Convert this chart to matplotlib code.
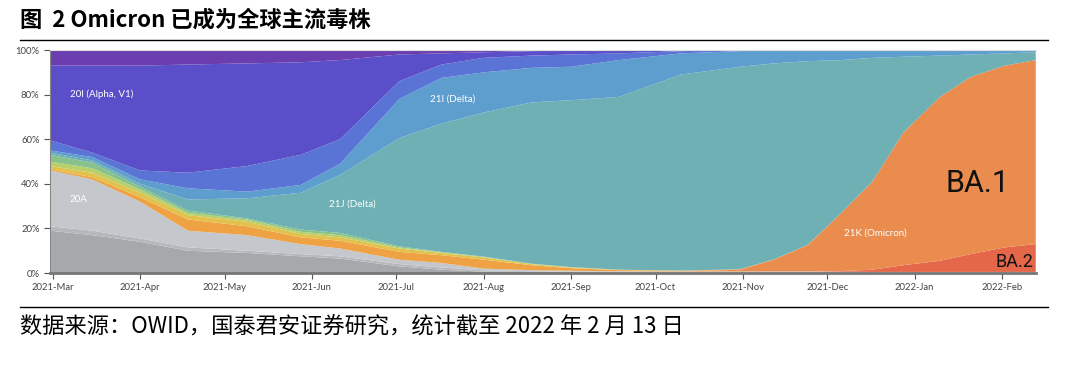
import matplotlib
matplotlib.use("Agg")
import matplotlib.pyplot as plt
import matplotlib.dates as mdates
import pandas as pd

# 采样日期
dates = ["2021-02-28", "2021-03-15", "2021-04-01", "2021-04-18", "2021-05-09", "2021-05-28",
         "2021-06-11", "2021-07-02", "2021-07-17", "2021-08-01", "2021-08-18", "2021-09-01",
         "2021-09-18", "2021-10-10", "2021-10-31", "2021-11-12", "2021-11-24", "2021-12-06",
         "2021-12-17", "2021-12-28", "2022-01-10", "2022-01-21", "2022-02-02", "2022-02-13"]

# 各变异株占比（%），自下而上堆叠
other_dark = [19, 17, 14, 10, 9, 7.5, 6.5, 3, 1.5, 0.6, 0.5, 0.4, 0.3, 0.3, 0.3, 0.3, 0.3, 0.3, 0.2, 0.2, 0.2, 0.2, 0.2, 0.2]
other_mid = [2, 2, 1.5, 1.5, 1, 1, 1, 1, 1, 0.6, 0.3, 0.2, 0.2, 0.2, 0.2, 0.2, 0.2, 0.2, 0.2, 0.2, 0.2, 0.2, 0.2, 0.2]
clade_20a = [25, 23, 16.5, 7.5, 7, 4.5, 3.5, 2, 2, 0.8, 0.5, 0.4, 0.3, 0.2, 0.2, 0.2, 0.2, 0.1, 0.1, 0.1, 0.1, 0.1, 0.1, 0.1]
ba2 = [0] * 17 + [0.3, 1, 3, 5, 8, 11, 12.5]
ba1 = [0] * 14 + [0.8, 5.3, 11.8, 26.1, 39.5, 59.5, 73.5, 79.5, 81.5, 82.5]
clade_orange = [0.5, 1, 2, 5, 4, 3, 3.5, 3.5, 3.5, 4, 2.2, 1.2, 0.5, 0.3, 0.2, 0.1, 0.1, 0, 0, 0, 0, 0, 0, 0]
clade_yellow = [1.5, 2, 2, 2, 2, 1.5, 1.5, 1.5, 1, 1, 0.5, 0.3, 0.2, 0.1] + [0] * 10
clade_ygreen = [2, 2, 1.5, 1, 1, 1, 1, 0.5, 0.3, 0.2, 0.1, 0.1] + [0] * 12
clade_green = [3, 2.5, 1.2, 1, 0.5, 1, 1, 0.5, 0.2, 0.2, 0.1, 0.1] + [0] * 12
delta_21j = [1, 1, 1.3, 5, 9, 16.5, 26, 48.5, 57.5, 64.6, 72.3, 74.8, 77.5, 87.9, 90.8, 87.9,
             82.4, 68.5, 55.5, 34, 18.5, 10, 5.5, 3.5]
delta_21i = [1, 1.5, 2, 5, 3, 3.5, 5, 17.5, 20.5, 18, 15.5, 15, 16.5, 9.5, 7, 6, 5, 4.5, 3.5,
             3, 2.5, 2, 1.5, 1]
clade_blue = [4.5, 2, 4, 7, 11.5, 13.5, 11, 8, 6, 6.5, 5.5, 5.5, 3, 1, 0.5] + [0] * 9
alpha_20i = [33.5, 39, 47, 48.5, 46, 41.5, 35.5, 12, 5, 2.5, 2, 1.8, 1.5, 0.5] + [0] * 10
clade_purple = [7, 7, 7, 6.5, 6, 5.5, 4.5, 2, 1.5, 1, 0.5, 0.2] + [0] * 12

layers = [other_dark, other_mid, clade_20a, ba2, ba1, clade_orange, clade_yellow,
          clade_ygreen, clade_green, delta_21j, delta_21i, clade_blue, alpha_20i, clade_purple]
colors = ["#a7a8ac", "#b6b8bc", "#c4c7cb", "#e4674a", "#e98c4e", "#efa244", "#e2c24d",
          "#b9cf6b", "#86c28a", "#6fb0b4", "#5d9ecf", "#5a74d6", "#5a4fc8", "#6a3eae"]

x = pd.to_datetime(dates)
cjk = ["Noto Sans CJK SC", "DejaVu Sans"]

fig = plt.figure(figsize=(10.68, 3.72), dpi=100)
ax = fig.add_axes([0.0468, 0.266, 0.923, 0.5995])

ax.stackplot(x, *layers, colors=colors, linewidth=0)

ax.set_xlim(x[0], x[-1])
ax.set_ylim(0, 100)

ticks = pd.date_range("2021-03-01", "2022-02-01", freq="MS")
ax.set_xticks(ticks)
ax.xaxis.set_major_formatter(mdates.DateFormatter("%Y-%b"))
ax.set_yticks([0, 20, 40, 60, 80, 100])
ax.set_yticklabels(["0%", "20%", "40%", "60%", "80%", "100%"])
ax.tick_params(axis="both", labelsize=6.8, colors="#555555", length=4, width=0.8,
               labelcolor="#444444")
for lab in ax.get_xticklabels() + ax.get_yticklabels():
    lab.set_family("Lato")

ax.spines["right"].set_visible(False)
ax.spines["top"].set_color("#dddddd")
ax.spines["left"].set_color("#888888")
ax.spines["bottom"].set_color("#777777")
ax.spines["bottom"].set_linewidth(2)

# 区域标签
lbl = dict(color="white", fontsize=7, family="Lato", ha="left", va="center")
ax.text(pd.Timestamp("2021-03-07"), 80, "20I (Alpha, V1)", **lbl)
ax.text(pd.Timestamp("2021-03-07"), 33, "20A", **lbl)
ax.text(pd.Timestamp("2021-07-13"), 78, "21I (Delta)", **lbl)
ax.text(pd.Timestamp("2021-06-07"), 31, "21J (Delta)", **lbl)
ax.text(pd.Timestamp("2021-12-07"), 18, "21K (Omicron)", **lbl)
ax.text(pd.Timestamp("2022-01-12"), 40, "BA.1", fontsize=22, color="#111111", ha="left",
        va="center", family="Roboto")
ax.text(pd.Timestamp("2022-02-12"), 5, "BA.2", fontsize=13, color="#111111", ha="right",
        va="center", family="Roboto")

# 标题与来源
fig.text(20 / 1068, 1 - 20 / 372, "图  2 Omicron 已成为全球主流毒株", fontsize=16,
         fontweight="bold", family=cjk, ha="left", va="center")
fig.add_artist(plt.Line2D([20 / 1068, 1048 / 1068], [1 - 40 / 372] * 2, color="black", lw=1))
fig.add_artist(plt.Line2D([20 / 1068, 1048 / 1068], [1 - 307 / 372] * 2, color="black", lw=1))
fig.text(20 / 1068, 1 - 327 / 372, "数据来源：OWID，国泰君安证券研究，统计截至 2022 年 2 月 13 日",
         fontsize=16, family=cjk, ha="left", va="center")

fig.savefig("out.png", dpi=100)
